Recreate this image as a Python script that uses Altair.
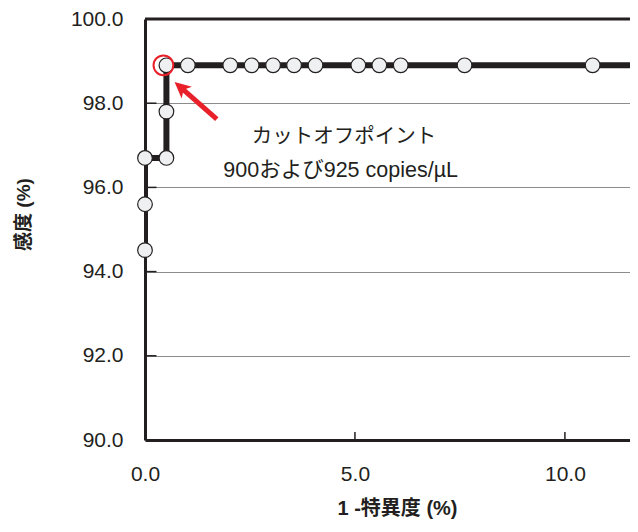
import altair as alt
import pandas as pd

# ROC points (x = 1 - specificity %, y = sensitivity %)
fpr = [0.0, 0.0, 0.0, 0.51, 0.51, 0.51, 1.02, 2.03, 2.54, 3.05, 3.55, 4.06,
       5.08, 5.58, 6.09, 7.61, 10.66]
sens = [94.51, 95.60, 96.70, 96.70, 97.80, 98.90, 98.90, 98.90, 98.90, 98.90,
        98.90, 98.90, 98.90, 98.90, 98.90, 98.90, 98.90]
order = list(range(len(fpr)))

X_MAX = 11.55

# line continues to the right edge of the plot
line_x = fpr + [X_MAX]
line_y = sens + [98.90]

cutoff_x = [0.51]
cutoff_y = [98.90]

y_ticks = [90.0, 92.0, 94.0, 96.0, 98.0, 100.0]
y_inner_ticks = [92.0, 94.0, 96.0, 98.0]
x_ticks = [0.0, 5.0, 10.0]
x_inner_ticks = [5.0, 10.0]

note_lines = ["カットオフポイント", "900および925 copies/µL"]
note_x = [4.74, 4.66]
note_y = [97.20, 96.40]

arrow_tail_x, arrow_tail_y = 1.71, 97.62
arrow_head_x, arrow_head_y = 0.87, 98.36

W, H = 485, 421
FONT = "Liberation Sans, Noto Sans CJK JP, sans-serif"
INK = "#231f20"
RED = "#e8202a"

xs = alt.Scale(domain=[0, X_MAX], nice=False, zero=False)
ys = alt.Scale(domain=[90, 100], nice=False, zero=False)

pts = pd.DataFrame({"x": fpr, "y": sens, "o": order})
line_df = pd.DataFrame({"x": line_x, "y": line_y, "o": list(range(len(line_x)))})

x_axis = alt.Axis(values=x_ticks, format=".1f", title="1 -特異度 (%)",
                  grid=False, ticks=False, tickSize=0, labelPadding=23,
                  labelFlush=False, labelOverlap=False,
                  labelFontSize=21, labelColor=INK, titleFontSize=20,
                  titleFontWeight="bold", titleColor=INK, titleY=58,
                  titleX=252,
                  domainWidth=3, domainColor=INK, labelFont=FONT, titleFont=FONT)
y_axis = alt.Axis(values=y_ticks, format=".1f", title="感度 (%)",
                  grid=True, gridColor="#8c8c8c", gridWidth=1,
                  ticks=False, tickSize=0, labelPadding=22,
                  labelFlush=False, labelOverlap=False,
                  labelFontSize=21, labelColor=INK, titleFontSize=19,
                  titleFontWeight="bold", titleColor=INK, titleX=-112, titleY=195,
                  domainWidth=3, domainColor=INK, labelFont=FONT, titleFont=FONT)

line = alt.Chart(line_df).mark_line(
    color=INK, strokeWidth=6, clip=True, strokeJoin="miter").encode(
    x=alt.X("x:Q", scale=xs, axis=x_axis),
    y=alt.Y("y:Q", scale=ys, axis=y_axis),
    order="o:Q")

top = alt.Chart(pd.DataFrame({"y": [100.0]})).mark_rule(
    color=INK, strokeWidth=3).encode(
    y=alt.Y("y:Q", scale=ys), x=alt.value(0), x2=alt.value(W))

ytk = alt.Chart(pd.DataFrame({"y": y_inner_ticks})).mark_tick(
    color=INK, thickness=1.5, size=11, orient="horizontal", opacity=1).encode(
    y=alt.Y("y:Q", scale=ys), x=alt.value(6))

xtk = alt.Chart(pd.DataFrame({"x": x_inner_ticks})).mark_tick(
    color=INK, thickness=1.5, size=8, orient="vertical", opacity=1).encode(
    x=alt.X("x:Q", scale=xs), y=alt.value(H - 4))

dots = alt.Chart(pts).mark_point(
    filled=True, fill="#eef0f2", stroke=INK, strokeWidth=1.2,
    size=215, opacity=1, shape="circle").encode(
    x=alt.X("x:Q", scale=xs), y=alt.Y("y:Q", scale=ys))

ring = alt.Chart(pd.DataFrame({"x": cutoff_x, "y": cutoff_y})).mark_point(
    shape="circle", filled=False, stroke=RED, strokeWidth=2,
    size=390, xOffset=-3, opacity=1).encode(
    x=alt.X("x:Q", scale=xs), y=alt.Y("y:Q", scale=ys))

shaft = alt.Chart(pd.DataFrame({"x": [arrow_tail_x], "y": [arrow_tail_y],
                                "x2": [arrow_head_x], "y2": [arrow_head_y]})).mark_rule(
    color=RED, strokeWidth=5).encode(
    x=alt.X("x:Q", scale=xs), y=alt.Y("y:Q", scale=ys), x2="x2:Q", y2="y2:Q")

head = alt.Chart(pd.DataFrame({"x": [arrow_head_x], "y": [arrow_head_y]})).mark_point(
    shape="M0,-1 L0.85,0.75 L0,0.3 L-0.85,0.75 Z", filled=True, fill=RED,
    strokeWidth=0, size=340, angle=311, opacity=1).encode(
    x=alt.X("x:Q", scale=xs), y=alt.Y("y:Q", scale=ys))

note1 = alt.Chart(pd.DataFrame({"x": note_x[:1], "y": note_y[:1], "t": note_lines[:1]})).mark_text(
    fontSize=20.5, color=INK, font=FONT, align="center", baseline="middle").encode(
    x=alt.X("x:Q", scale=xs), y=alt.Y("y:Q", scale=ys), text="t:N")

note2 = alt.Chart(pd.DataFrame({"x": note_x[1:], "y": note_y[1:], "t": note_lines[1:]})).mark_text(
    fontSize=21.5, color=INK, font=FONT, align="center", baseline="middle").encode(
    x=alt.X("x:Q", scale=xs), y=alt.Y("y:Q", scale=ys), text="t:N")

chart = alt.layer(line, top, ytk, xtk, dots, ring, shaft, head, note1, note2).properties(
    width=W, height=H,
    padding={"left": 137, "top": 11, "right": 0, "bottom": 84},
    autosize=alt.AutoSizeParams(type="none"),
).configure_view(stroke=None).configure(font=FONT)

chart.save("out.html", embed_options={"renderer": "svg", "actions": False})
